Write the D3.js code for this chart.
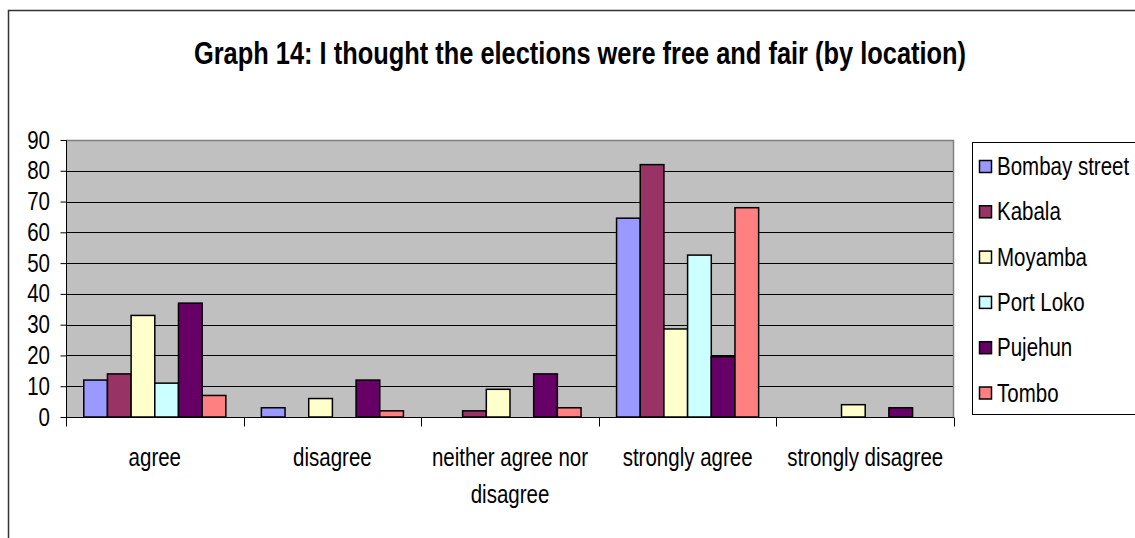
<!DOCTYPE html>
<html>
<head>
<meta charset="utf-8">
<script src="https://cdn.jsdelivr.net/npm/d3@7"></script>
<style>
  html, body { margin: 0; padding: 0; background: #fff; }
  svg { display: block; }
  text { font-family: "Liberation Sans Narrow", "Arial Narrow", "Liberation Sans", Arial, sans-serif; fill: #000; }
</style>
</head>
<body>
<svg id="chart" width="1135" height="538"></svg>
<script>
// Survey responses by location (percent)
const categories = ["agree", "disagree", "neither agree nor disagree", "strongly agree", "strongly disagree"];
const locations = ["Bombay street", "Kabala", "Moyamba", "Port Loko", "Pujehun", "Tombo"];
const bombayStreet = [12, 3, 0, 64.6, 0];
const kabala       = [14, 0, 2, 82, 0];
const moyamba      = [33, 6, 9, 28.6, 4];
const portLoko     = [11, 0, 0, 52.6, 0];
const pujehun      = [37, 12, 14, 19.6, 3];
const tombo        = [7, 2, 3, 68, 0];
const yTicks = [0, 10, 20, 30, 40, 50, 60, 70, 80, 90];
const titleText = "Graph 14: I thought the elections were free and fair (by location)";

const seriesValues = [bombayStreet, kabala, moyamba, portLoko, pujehun, tombo];
const colors = ["#9999FF", "#993366", "#FFFFCC", "#CCFFFF", "#660066", "#FF8080"];

// horizontal squeeze giving a narrow typeface look
const NARROW = 0.82;

const svg = d3.select("#chart");

// outer chart frame (runs off the right and bottom edges)
svg.append("rect")
  .attr("x", 8.5).attr("y", 10.5)
  .attr("width", 1300).attr("height", 700)
  .attr("fill", "#fff").attr("stroke", "#333").attr("stroke-width", 1.5);

// title
svg.append("text")
  .attr("transform", `translate(580,64) scale(${NARROW},1)`)
  .attr("text-anchor", "middle")
  .attr("font-weight", "bold")
  .attr("font-size", 31)
  .text(titleText);

const plot = { left: 66, right: 954, top: 140, bottom: 417 };

const x0 = d3.scaleBand().domain(categories).range([plot.left, plot.right]).padding(0);
const bw = x0.bandwidth() / 7.5;
const x1 = d3.scaleBand().domain(locations)
  .range([bw * 0.75, x0.bandwidth() - bw * 0.75]).padding(0);
const y = d3.scaleLinear().domain([0, 90]).range([plot.bottom, plot.top]);

// plot background
svg.append("rect")
  .attr("x", plot.left).attr("y", plot.top)
  .attr("width", plot.right - plot.left).attr("height", plot.bottom - plot.top)
  .attr("fill", "#C0C0C0");

// gridlines
svg.append("g")
  .selectAll("line")
  .data(yTicks.filter(t => t > 0 && t < 90))
  .join("line")
  .attr("x1", plot.left).attr("x2", plot.right)
  .attr("y1", d => Math.round(y(d)) + 0.5).attr("y2", d => Math.round(y(d)) + 0.5)
  .attr("stroke", "#000").attr("stroke-width", 1);

// top and right border of plot area
svg.append("path")
  .attr("d", `M${plot.left},${plot.top + 0.5}H${plot.right - 0.5}V${plot.bottom}`)
  .attr("fill", "none").attr("stroke", "#808080").attr("stroke-width", 1.5);

// bars
const rows = [];
locations.forEach((loc, si) => {
  categories.forEach((cat, ci) => {
    rows.push({ loc, cat, value: seriesValues[si][ci], color: colors[si] });
  });
});

svg.append("g")
  .selectAll("rect")
  .data(rows.filter(d => d.value > 0))
  .join("rect")
  .attr("x", d => x0(d.cat) + x1(d.loc))
  .attr("y", d => y(d.value))
  .attr("width", x1.bandwidth())
  .attr("height", d => y(0) - y(d.value))
  .attr("fill", d => d.color)
  .attr("stroke", "#000")
  .attr("stroke-width", 1.5);

// y axis
const yAxis = d3.axisLeft(y).tickValues(yTicks).tickSize(6).tickPadding(9).tickSizeOuter(0);
const gy = svg.append("g")
  .attr("transform", `translate(${plot.left + 0.5},0)`)
  .call(yAxis);
gy.select(".domain").attr("stroke", "#000").attr("d", `M0,${plot.top}V${plot.bottom + 9}`);
gy.selectAll(".tick line").attr("stroke", "#000");
gy.selectAll("text")
  .attr("font-size", 25)
  .attr("font-family", null)
  .attr("fill", "#000")
  .attr("x", -16.5 / NARROW)
  .attr("transform", `scale(${NARROW},1)`);

// x axis: ticks at category boundaries
const xAxis = d3.axisBottom(x0).tickSize(0).tickFormat("");
const gx = svg.append("g")
  .attr("transform", `translate(0,${plot.bottom + 0.5})`)
  .call(xAxis);
gx.select(".domain").attr("stroke", "#000").attr("d", `M${plot.left},0H${plot.right}`);
gx.selectAll(".tick").remove();

const boundaries = categories.map(c => x0(c)).concat([x0.range()[1]]);
gx.selectAll("line.boundary")
  .data(boundaries)
  .join("line")
  .attr("class", "boundary")
  .attr("x1", d => Math.round(d) + 0.5).attr("x2", d => Math.round(d) + 0.5)
  .attr("y1", 0).attr("y2", 9)
  .attr("stroke", "#000");

// category labels, wrapped to the band width
const labelG = svg.append("g");
categories.forEach(cat => {
  const cx = x0(cat) + x0.bandwidth() / 2;
  const t = labelG.append("text")
    .attr("transform", `translate(${cx},466) scale(${NARROW},1)`)
    .attr("text-anchor", "middle")
    .attr("font-size", 25);
  const words = cat.split(" ");
  let line = [];
  let tspan = t.append("tspan").attr("x", 0).attr("y", 0);
  let lineNo = 0;
  words.forEach(w => {
    line.push(w);
    tspan.text(line.join(" "));
    if (tspan.node().getComputedTextLength() * NARROW > 165 && line.length > 1) {
      line.pop();
      tspan.text(line.join(" "));
      line = [w];
      lineNo++;
      tspan = t.append("tspan").attr("x", 0).attr("y", lineNo * 37).text(w);
    }
  });
});

// legend
const legend = svg.append("g");
legend.append("rect")
  .attr("x", 972.5).attr("y", 142.5)
  .attr("width", 300).attr("height", 272)
  .attr("fill", "#fff").attr("stroke", "#000").attr("stroke-width", 1);

const legendItem = legend.selectAll("g.item")
  .data(locations)
  .join("g")
  .attr("class", "item")
  .attr("transform", (d, i) => `translate(0,${175 + i * 45.3})`);

legendItem.append("rect")
  .attr("x", 979.5).attr("y", -14.5)
  .attr("width", 12).attr("height", 12)
  .attr("fill", (d, i) => colors[i])
  .attr("stroke", "#000").attr("stroke-width", 1.5);

legendItem.append("text")
  .attr("transform", `translate(997,0) scale(${NARROW},1)`)
  .attr("font-size", 25)
  .text(d => d);
</script>
</body>
</html>
